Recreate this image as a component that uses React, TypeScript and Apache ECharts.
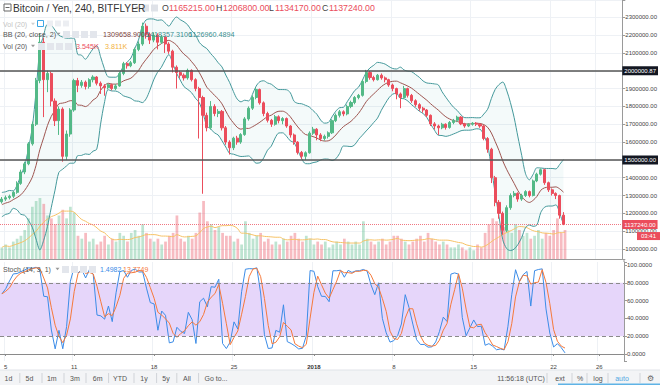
import React, { useEffect, useRef } from "react";
import * as echarts from "echarts";

// ---------- data (prices in thousands of yen, 8-hour candles) ----------
const K = 1000;
const opens = [
  1265, 1280, 1288, 1296, 1318, 1368, 1432, 1478, 1590, 1700, 1945, 2160, 1950, 1985, 1830, 1720, 1785, 1520, 1645, 1780,
  1945, 1918, 1936, 1912, 1950, 1965, 1930, 1915, 1905, 1922, 1900, 1915, 1985, 2040, 2028, 2045, 2120, 2150, 2250, 2205,
  2172, 2200, 2160, 2190, 2150, 2110, 2020, 1990, 1975, 1960, 2002, 1950, 1900, 1850, 1750, 1680, 1800, 1760, 1772, 1680,
  1600, 1568, 1622, 1600, 1642, 1730, 1790, 1850, 1895, 1820, 1760, 1722, 1700, 1742, 1720, 1732, 1690, 1640, 1600, 1542,
  1520, 1540, 1650, 1672, 1640, 1620, 1632, 1652, 1720, 1750, 1770, 1758, 1800, 1822, 1850, 1862, 1940, 1990, 1962, 1950,
  1975, 1960, 1950, 1920, 1900, 1870, 1850, 1900, 1862, 1832, 1810, 1790, 1780, 1750, 1702, 1690, 1680, 1700, 1682, 1710,
  1722, 1740, 1702, 1690, 1700, 1706, 1700, 1690, 1620, 1560, 1400, 1262, 1200, 1105, 1232, 1300, 1312, 1280, 1300, 1322,
  1300, 1382, 1420, 1445, 1372, 1332, 1312, 1300, 1190,
];
const closes = [
  1280, 1288, 1296, 1318, 1368, 1432, 1478, 1590, 1700, 1945, 2160, 1950, 1985, 1830, 1720, 1785, 1520, 1645, 1780, 1945,
  1918, 1936, 1912, 1950, 1965, 1930, 1915, 1905, 1922, 1900, 1915, 1985, 2040, 2028, 2045, 2120, 2150, 2250, 2205, 2172,
  2200, 2160, 2190, 2150, 2110, 2020, 1990, 1975, 1960, 2002, 1950, 1900, 1850, 1750, 1680, 1800, 1760, 1772, 1680, 1600,
  1568, 1622, 1600, 1642, 1730, 1790, 1850, 1895, 1820, 1760, 1722, 1700, 1742, 1720, 1732, 1690, 1640, 1600, 1542, 1520,
  1540, 1650, 1672, 1640, 1620, 1632, 1652, 1720, 1750, 1770, 1758, 1800, 1822, 1850, 1862, 1940, 1990, 1962, 1950, 1975,
  1960, 1950, 1920, 1900, 1870, 1850, 1900, 1862, 1832, 1810, 1790, 1780, 1750, 1702, 1690, 1680, 1700, 1682, 1710, 1722,
  1740, 1702, 1690, 1700, 1706, 1700, 1690, 1620, 1560, 1400, 1262, 1200, 1105, 1232, 1300, 1312, 1280, 1300, 1322, 1300,
  1382, 1420, 1445, 1372, 1332, 1312, 1300, 1190, 1137.24,
];
const highs = [
  1292, 1300, 1305, 1325, 1380, 1445, 1490, 1600, 1715, 1960, 2210, 2185, 2000, 1995, 1845, 1800, 1795, 1665, 1790, 1955,
  1960, 1948, 1945, 1958, 1975, 1970, 1940, 1925, 1930, 1928, 1925, 1995, 2050, 2048, 2055, 2130, 2165, 2270, 2265, 2215,
  2215, 2210, 2200, 2195, 2160, 2118, 2030, 2000, 1985, 2012, 2008, 1958, 1910, 1860, 1765, 1830, 1812, 1785, 1780, 1690,
  1610, 1630, 1635, 1650, 1740, 1800, 1862, 1905, 1900, 1828, 1770, 1730, 1752, 1750, 1740, 1738, 1695, 1648, 1605, 1550,
  1548, 1660, 1685, 1678, 1650, 1642, 1660, 1728, 1760, 1780, 1778, 1810, 1832, 1858, 1870, 1950, 2005, 1998, 1972, 1982,
  1985, 1968, 1955, 1928, 1905, 1878, 1915, 1905, 1870, 1840, 1818, 1798, 1785, 1755, 1712, 1698, 1708, 1705, 1718, 1730,
  1748, 1745, 1708, 1706, 1712, 1712, 1706, 1695, 1628, 1568, 1410, 1275, 1210, 1245, 1312, 1325, 1318, 1310, 1330, 1328,
  1390, 1428, 1452, 1450, 1378, 1340, 1318, 1305, 1207,
];
const lows = [
  1255, 1270, 1278, 1285, 1310, 1360, 1420, 1470, 1580, 1690, 1930, 1740, 1880, 1800, 1690, 1640, 1490, 1500, 1630, 1770,
  1880, 1905, 1895, 1900, 1935, 1918, 1870, 1860, 1895, 1890, 1892, 1910, 1975, 2012, 2020, 2038, 2110, 2140, 2180, 2150,
  2160, 2120, 2150, 2100, 2095, 1990, 1900, 1960, 1945, 1950, 1940, 1885, 1620, 1310, 1660, 1670, 1745, 1740, 1665, 1585,
  1530, 1555, 1585, 1590, 1635, 1720, 1780, 1840, 1810, 1745, 1710, 1685, 1692, 1705, 1700, 1680, 1625, 1585, 1530, 1505,
  1500, 1535, 1640, 1610, 1605, 1608, 1620, 1645, 1712, 1738, 1745, 1750, 1790, 1812, 1840, 1855, 1930, 1950, 1940, 1945,
  1950, 1935, 1910, 1885, 1840, 1790, 1842, 1850, 1820, 1798, 1775, 1765, 1740, 1690, 1670, 1640, 1672, 1670, 1675, 1700,
  1712, 1695, 1680, 1684, 1692, 1690, 1680, 1610, 1540, 1370, 1240, 1170, 1080, 1095, 1220, 1290, 1265, 1270, 1292, 1290,
  1295, 1375, 1412, 1360, 1320, 1300, 1280, 1170, 1134.17,
];
// volume per 8h candle, thousands of BTC
const volumes = [
  4, 5, 4, 6, 7, 8, 10, 14, 18, 20, 21, 19, 15, 14, 12, 15, 17, 14, 18, 16,
  8, 7, 9, 6, 7, 5, 6, 8, 5, 7, 6, 9, 8, 6, 9, 10, 8, 12, 9, 7,
  6, 7, 5, 6, 8, 9, 15, 7, 6, 8, 7, 9, 16, 20, 13, 12, 10, 11, 9, 8,
  8, 6, 7, 5, 13, 9, 7, 8, 9, 6, 7, 5, 6, 5, 7, 6, 8, 9, 7, 6,
  8, 7, 5, 6, 5, 6, 4, 5, 6, 5, 7, 6, 5, 6, 5, 13, 7, 6, 5, 6,
  7, 5, 6, 8, 8, 7, 6, 5, 6, 7, 8, 6, 9, 7, 6, 5, 6, 5, 4, 4,
  5, 4, 3, 4, 3, 5, 4, 9, 12, 14, 13, 12, 11, 10, 9, 12, 10, 8, 9, 7,
  8, 10, 7, 9, 8, 10, 14, 9, 10,
];
// closes of the candles before the visible window (Bollinger warm-up)
const warmupCloses = [1200, 1230, 1190, 1250, 1280, 1230, 1260, 1300, 1270];

const xTickDates = ["2017-12-05", "2017-12-11", "2017-12-18", "2017-12-25", "2018-01-01", "2018-01-08", "2018-01-15", "2018-01-22", "2018-01-26"];
const xTickTexts = ["5", "11", "18", "25", "2018", "8", "15", "22", "26"];
const hLines = [2000000.87, 1500000];
const lastPrice = 1137240;
const ohlcText = ["1165215.00", "1206800.00", "1134170.00", "1137240.00"];
const bbText = ["1309658.9000", "1418357.3106", "1126960.4894"];
const volText = ["3.545K", "3.811K"];
const stochText = ["1.4982", "13.7749"];

// ---------- helpers ----------
const FONT = 'Arial, "Liberation Sans", sans-serif';
const START = Date.UTC(2017, 11, 4, 16);
const STEP = 8 * 3600 * 1000;
const N_CATS = 164;
const pad = (n: number) => String(n).padStart(2, "0");
const categories = Array.from({ length: N_CATS }, (_, i) => {
  const d = new Date(START + i * STEP);
  return `${d.getUTCFullYear()}-${pad(d.getUTCMonth() + 1)}-${pad(d.getUTCDate())} ${pad(d.getUTCHours())}`;
});
const isTick = (v: string) => v.endsWith(" 00") && xTickDates.includes(v.slice(0, 10));

const UP = "#53b987";
const DOWN = "#eb4d5c";

function buildIndicators() {
  const all = warmupCloses.concat(closes);
  const w = warmupCloses.length;
  const P = 10;
  const up: number[] = [], mid: number[] = [], lo: number[] = [];
  closes.forEach((_, i) => {
    const end = i + w;
    const s = Math.max(0, end - P + 1);
    const win = all.slice(s, end + 1);
    const m = win.reduce((a, b) => a + b, 0) / win.length;
    const sd = Math.sqrt(win.reduce((a, b) => a + (b - m) * (b - m), 0) / win.length);
    mid.push(m * K);
    up.push((m + 2 * sd) * K);
    lo.push((m - 2 * sd) * K);
  });
  const volMa = volumes.map((_, i) => {
    const s = Math.max(0, i - 9);
    const win = volumes.slice(s, i + 1);
    return win.reduce((a, b) => a + b, 0) / win.length;
  });
  const SP = 5;
  const kv = closes.map((c, i) => {
    const s = Math.max(0, i - SP + 1);
    let hh = -Infinity, ll = Infinity;
    for (let j = s; j <= i; j++) { hh = Math.max(hh, highs[j]); ll = Math.min(ll, lows[j]); }
    return hh === ll ? 50 : ((c - ll) / (hh - ll)) * 100;
  });
  const dv = kv.map((_, i) => {
    const win = kv.slice(Math.max(0, i - 2), i + 1);
    return win.reduce((a, b) => a + b, 0) / win.length;
  });
  return { up, mid, lo, volMa, kv, dv };
}

function txt(text: string, x: number, y: number, fill: string, size = 8, align = "left", weight = "normal") {
  return {
    type: "text", x, y, z: 100, silent: true,
    style: { text, fill, font: `${weight} ${size}px ${FONT}`, align, verticalAlign: "middle", textAlign: align, textVerticalAlign: "middle" },
  };
}
function box(x: number, y: number, w: number, h: number, fill: string, stroke?: string) {
  return { type: "rect", z: 99, silent: true, shape: { x, y, width: w, height: h }, style: { fill, stroke: stroke || "none", lineWidth: 1 } };
}
function vline(x: number, y1: number, y2: number, color: string) {
  return { type: "line", z: 99, silent: true, shape: { x1: x, y1, x2: x, y2 }, style: { stroke: color, lineWidth: 1 } };
}
function caret(x: number, y: number, color: string) {
  return { type: "polygon", z: 100, silent: true, shape: { points: [[x, y - 1.2], [x + 4, y - 1.2], [x + 2, y + 1.3]] }, style: { fill: color } };
}

export default function App() {
  const ref = useRef<HTMLDivElement>(null);
  useEffect(() => {
    if (!ref.current) return;
    const chart = echarts.init(ref.current, null, { renderer: "svg" });
    const ind = buildIndicators();
    const candle = closes.map((c, i) => [opens[i] * K, c * K, lows[i] * K, highs[i] * K]);
    const vol = volumes.map((v, i) => ({
      value: v,
      itemStyle: { color: closes[i] >= opens[i] ? "rgba(83,185,135,0.38)" : "rgba(235,77,92,0.38)" },
    }));
    const bandDiff = ind.up.map((u, i) => u - ind.lo[i]);

    const header: any[] = [
      // row 1
      box(4, 4, 7, 7, "#fff", "#666"),
      { type: "line", z: 100, silent: true, shape: { x1: 5.5, y1: 7.5, x2: 9.5, y2: 7.5 }, style: { stroke: "#666", lineWidth: 1 } },
      txt("Bitcoin / Yen, 240, BITFLYER", 13, 8, "#333", 10.2),
      caret(135, 8, "#999"),
      box(142, 4.5, 7, 7, "#dfe2e8"), box(151, 4.5, 7, 7, "#dfe2e8"),
      txt("O", 162, 8, "#444", 8.8), txt(ohlcText[0], 169, 8, DOWN, 8.8),
      txt("H", 216, 8, "#444", 8.8), txt(ohlcText[1], 223, 8, DOWN, 8.8),
      txt("L", 269, 8, "#444", 8.8), txt(ohlcText[2], 275, 8, DOWN, 8.8),
      txt("C", 322, 8, "#444", 8.8), txt(ohlcText[3], 329, 8, DOWN, 8.8),
      // row 2 (faded)
      txt("Vol (20)", 3, 24, "#c4c4c4", 7), caret(31, 24, "#d0d0d0"),
      box(37.5, 20.5, 6, 6, "#fff", "#3ba7e6"),
      box(47, 20.5, 6, 6, "#eceef2"), box(55, 20.5, 6, 6, "#eceef2"), box(63, 20.5, 6, 6, "#eceef2"),
      // row 3 BB
      txt("BB (20, close, 2)", 3, 34, "#555", 7.2), caret(56.5, 34, "#999"),
      box(63, 31, 7, 7, "#e3e6ec"), box(72, 31, 7, 7, "#e3e6ec"), box(81, 31, 7, 7, "#e3e6ec"), box(90, 31, 7, 7, "#e3e6ec"),
      txt(bbText[0], 103, 34, "#7d3f3b", 7.2),
      txt(bbText[1], 146, 34, "#3a8f8f", 7.2),
      txt(bbText[2], 189, 34, "#3a8f8f", 7.2),
      // row 4 Vol
      txt("Vol (20)", 3, 46, "#555", 7), caret(31, 46, "#999"),
      box(38, 43, 7, 7, "#e3e6ec"), box(47, 43, 7, 7, "#e3e6ec"), box(56, 43, 7, 7, "#e3e6ec"), box(65, 43, 7, 7, "#e3e6ec"),
      txt(volText[0], 76, 46, "#eb4d5c", 7.2),
      txt(volText[1], 105, 46, "#f3b13b", 7.2),
      // stoch legend
      txt("Stoch (14, 3, 1)", 3, 269, "#555", 7), caret(55.5, 269, "#999"),
      box(62, 266, 7, 7, "#e3e6ec"), box(71, 266, 7, 7, "#e3e6ec"), box(80, 266, 7, 7, "#e3e6ec"), box(89, 266, 7, 7, "#e3e6ec"),
      txt(stochText[0], 100, 269, "#3c8ce7", 7),
      txt(stochText[1], 123, 269, "#f5793b", 7),
      // bottom toolbar
      box(0, 370, 660, 15, "#f3f4f6"),
      { type: "line", z: 99, silent: true, shape: { x1: 0, y1: 370, x2: 660, y2: 370 }, style: { stroke: "#e0e3e8", lineWidth: 1 } },
    ];
    const tbItems: [string, number][] = [["1d", 8.4], ["5d", 29.5], ["1m", 51.8], ["3m", 74.9], ["6m", 97.6], ["YTD", 120], ["1y", 144], ["5y", 166], ["All", 187], ["Go to...", 216]];
    tbItems.forEach(([t, x]) => header.push(txt(t, x, 378, "#555", 7, "center")));
    [19.8, 42, 64, 86, 108.6, 134, 156.6, 176.8, 198.6].forEach((x) => header.push(vline(x, 373, 383, "#d0d3d8")));
    header.push(txt("11:56:18 (UTC)", 521, 378, "#555", 7, "center"));
    header.push(txt("ext", 560, 378, "#555", 7, "center"));
    header.push(txt("%", 580, 378, "#555", 7, "center"));
    header.push(txt("log", 598, 378, "#555", 7, "center"));
    header.push(txt("auto", 622, 378, "#4fa8e3", 7, "center"));
    header.push(txt("⚙", 650, 378, "#666", 8, "center"));
    [547, 572, 587, 608, 640].forEach((x) => header.push(vline(x, 373, 383, "#d0d3d8")));
    header.push(box(558, 383.5, 102, 1.5, "#5fb3e6"));
    header.push(vline(624, 259, 262, "#9a9a9a"));

    const priceLabel = (bg: string) => ({
      show: true, position: "end", distance: 0, color: "#fff", backgroundColor: bg,
      fontSize: 6, fontFamily: FONT, padding: [1, 2, 1, 2], lineHeight: 7,
      formatter: (p: any) => Number(p.value).toFixed(2),
    });

    chart.setOption({
      animation: false,
      backgroundColor: "#ffffff",
      textStyle: { fontFamily: FONT },
      grid: [
        { left: 0, right: 36, top: 0, height: 259 },
        { left: 0, right: 36, top: 185, height: 74 },
        { left: 0, right: 36, top: 262, height: 99 },
      ],
      xAxis: [
        {
          type: "category", gridIndex: 0, data: categories, boundaryGap: true,
          axisLine: { show: true, lineStyle: { color: "#9a9a9a", width: 1 } },
          axisTick: { show: false }, axisLabel: { show: false },
          splitLine: { show: true, interval: (i: number, v: string) => isTick(v), lineStyle: { color: "#eef1f5" } },
        },
        {
          type: "category", gridIndex: 1, data: categories, boundaryGap: true,
          axisLine: { show: false }, axisTick: { show: false }, axisLabel: { show: false }, splitLine: { show: false },
        },
        {
          type: "category", gridIndex: 2, data: categories, boundaryGap: true,
          axisLine: { show: true, lineStyle: { color: "#8a8a8a", width: 1 } },
          axisTick: { show: true, alignWithLabel: true, length: 2, interval: (i: number, v: string) => isTick(v), lineStyle: { color: "#8a8a8a" } },
          axisLabel: {
            show: true, interval: (i: number, v: string) => isTick(v), margin: 3, fontSize: 6, color: "#444",
            formatter: (v: string) => {
              const t = xTickTexts[xTickDates.indexOf(v.slice(0, 10))] || "";
              return t === "2018" ? `{b|${t}}` : t;
            },
            rich: { b: { fontWeight: "bold", fontSize: 6, color: "#333" } },
          },
          splitLine: { show: true, interval: (i: number, v: string) => isTick(v), lineStyle: { color: "#eef1f5" } },
        },
      ],
      yAxis: [
        {
          type: "value", gridIndex: 0, position: "right", min: 944000, max: 2397000, splitNumber: 15, scale: false,
          axisLine: { show: true, lineStyle: { color: "#9a9a9a" } },
          axisTick: { show: true, length: 3, lineStyle: { color: "#9a9a9a" } },
          axisLabel: {
            show: true, fontSize: 6, color: "#444", margin: 3,
            formatter: (v: number) => (Math.abs(v % 100000) < 1e-6 ? v.toFixed(2) : ""),
          },
          splitLine: { show: true, lineStyle: { color: "#eef1f5" } },
        },
        {
          type: "value", gridIndex: 1, min: 0, max: 25.5,
          axisLine: { show: false }, axisTick: { show: false }, axisLabel: { show: false }, splitLine: { show: false },
        },
        {
          type: "value", gridIndex: 2, position: "right", min: -7.87, max: 103.37, splitNumber: 5,
          axisLine: { show: true, lineStyle: { color: "#9a9a9a" } },
          axisTick: { show: true, length: 3, lineStyle: { color: "#9a9a9a" } },
          axisLabel: {
            show: true, fontSize: 6, color: "#444", margin: 3,
            formatter: (v: number) => (Math.abs(v - Math.round(v / 20) * 20) < 1e-6 && v >= 0 ? v.toFixed(4) : ""),
          },
          splitLine: { show: false },
        },
      ],
      series: [
        {
          name: "vol", type: "bar", xAxisIndex: 1, yAxisIndex: 1, data: vol, barWidth: "72%", z: 1,
        },
        {
          name: "volMa", type: "line", xAxisIndex: 1, yAxisIndex: 1, data: ind.volMa, smooth: 0.4, symbol: "none", z: 2,
          lineStyle: { color: "#f6c265", width: 1 },
        },
        {
          name: "bbBase", type: "line", xAxisIndex: 0, yAxisIndex: 0, data: ind.lo, stack: "bb", smooth: 0.3, symbol: "none", z: 1,
          lineStyle: { opacity: 0 },
        },
        {
          name: "bbFill", type: "line", xAxisIndex: 0, yAxisIndex: 0, data: bandDiff, stack: "bb", smooth: 0.3, symbol: "none", z: 1,
          lineStyle: { opacity: 0 }, areaStyle: { color: "rgba(60,160,165,0.08)" },
        },
        {
          name: "bbUpper", type: "line", xAxisIndex: 0, yAxisIndex: 0, data: ind.up, smooth: 0.3, symbol: "none", z: 3,
          lineStyle: { color: "#44999b", width: 1 },
        },
        {
          name: "bbLower", type: "line", xAxisIndex: 0, yAxisIndex: 0, data: ind.lo, smooth: 0.3, symbol: "none", z: 3,
          lineStyle: { color: "#44999b", width: 1 },
        },
        {
          name: "bbMid", type: "line", xAxisIndex: 0, yAxisIndex: 0, data: ind.mid, smooth: 0.3, symbol: "none", z: 3,
          lineStyle: { color: "#9e5550", width: 1 },
        },
        {
          name: "price", type: "candlestick", xAxisIndex: 0, yAxisIndex: 0, data: candle, barWidth: "68%", z: 4,
          itemStyle: { color: UP, color0: DOWN, borderColor: UP, borderColor0: DOWN, borderWidth: 1 },
          markLine: {
            silent: true, symbol: ["none", "none"], animation: false,
            data: [
              { yAxis: hLines[0], lineStyle: { color: "#555", width: 1.6, type: "solid" }, label: priceLabel("#131722") },
              { yAxis: hLines[1], lineStyle: { color: "#555", width: 1.6, type: "solid" }, label: priceLabel("#131722") },
              { yAxis: lastPrice, lineStyle: { color: "#f07782", width: 1, type: "dotted" }, label: priceLabel("#eb4d5c") },
            ],
          },
        },
        {
          name: "stochK", type: "line", xAxisIndex: 2, yAxisIndex: 2, data: ind.kv, symbol: "none", z: 3,
          lineStyle: { color: "#3c8ce7", width: 1 },
          markArea: {
            silent: true, itemStyle: { color: "#e6d6fa" },
            data: [[{ yAxis: 20 }, { yAxis: 80 }]],
          },
          markLine: {
            silent: true, symbol: ["none", "none"], label: { show: false },
            lineStyle: { color: "#8a8a8a", type: [4, 3], width: 1 },
            data: [{ yAxis: 80 }, { yAxis: 20 }],
          },
        },
        {
          name: "stochD", type: "line", xAxisIndex: 2, yAxisIndex: 2, data: ind.dv, symbol: "none", z: 3,
          lineStyle: { color: "#f5793b", width: 1 },
        },
      ],
      graphic: header,
    });

    // countdown tag just below the last-price tag
    const py = chart.convertToPixel({ yAxisIndex: 0 }, lastPrice) as number;
    chart.setOption({
      graphic: header.concat([
        box(637, py + 7.5, 23, 8, "#eb4d5c"),
        txt("03:41", 648.5, py + 11.8, "#fff", 6, "center"),
      ]),
    });

    return () => chart.dispose();
  }, []);
  return <div ref={ref} style={{ position: "fixed", left: 0, top: 0, width: 660, height: 385 }} />;
}
